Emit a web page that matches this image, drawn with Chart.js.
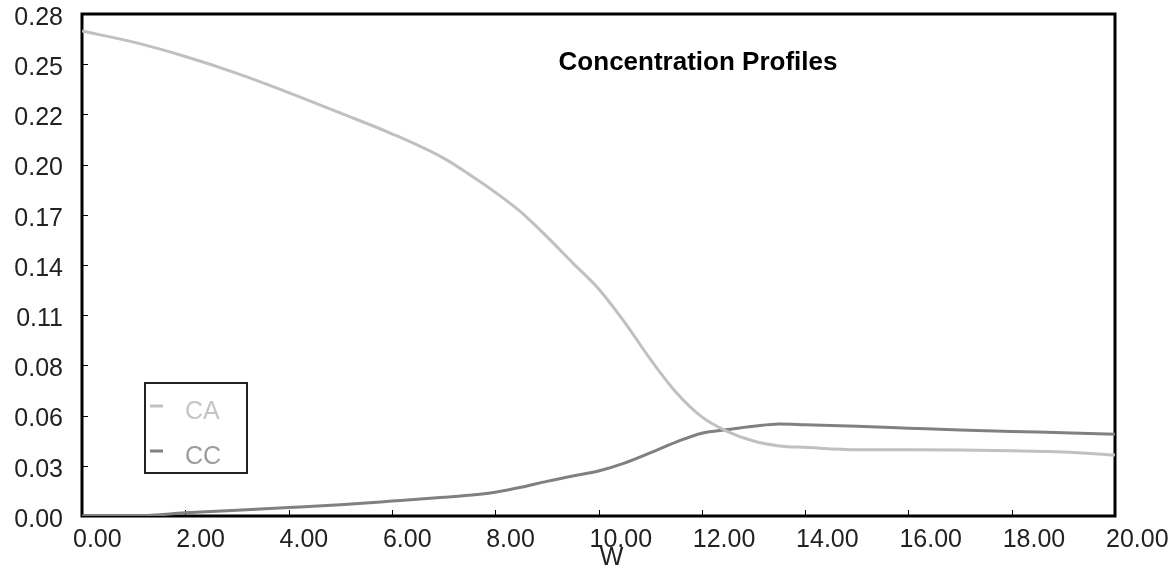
<!DOCTYPE html>
<html>
<head>
<meta charset="utf-8">
<title>Concentration Profiles</title>
<script src="https://cdn.jsdelivr.net/npm/chart.js@4.4.1/dist/chart.umd.min.js"></script>
<style>
  html, body { margin: 0; padding: 0; background: #fff; }
  canvas { display: block; }
</style>
</head>
<body>
<canvas id="profiles" width="1170" height="571"></canvas>
<script>
// values
const wValues  = [0, 1, 2, 3, 4, 5, 6, 7, 7.5, 8, 8.5, 9, 9.5, 10, 10.5, 11, 11.5, 12, 12.5, 13, 13.5, 14, 15, 16, 17, 18, 19, 20];
const caValues = [0.2705, 0.2643, 0.2563, 0.2469, 0.2362, 0.2248, 0.2132, 0.1996, 0.1905, 0.1806, 0.1695, 0.1558, 0.1412, 0.1268,
                  0.1083, 0.0876, 0.0690, 0.0553, 0.0471, 0.0418, 0.0391, 0.0383, 0.0370, 0.0370, 0.0368, 0.0364, 0.0357, 0.0340];
const ccValues = [0, 0, 0.0018, 0.0032, 0.0047, 0.0063, 0.0083, 0.0104, 0.0116, 0.0133, 0.0160, 0.0193, 0.0223, 0.0251,
                  0.0295, 0.0352, 0.0412, 0.0462, 0.0482, 0.0500, 0.0513, 0.0509, 0.0500, 0.0490, 0.0480, 0.0471, 0.0465, 0.0456];

const xTickLabels = ['0.00', '2.00', '4.00', '6.00', '8.00', '10.00', '12.00', '14.00', '16.00', '18.00', '20.00'];
const yTickLabels = ['0.00', '0.03', '0.06', '0.08', '0.11', '0.14', '0.17', '0.20', '0.22', '0.25', '0.28'];

const seriesNames = ['CA', 'CC'];
const seriesColors = ['#c0c0c0', '#808080'];
const legendTextColors = ['#c4c4c4', '#9c9c9c'];

const FONT = '"Liberation Sans", Arial, sans-serif';

// black frame plus small inward ticks, drawn under the curves
const framePlugin = {
    id: 'frame',
    beforeDatasetsDraw(chart) {
        const { ctx, chartArea: a, scales: { x, y } } = chart;
        ctx.save();
        ctx.strokeStyle = '#000';
        ctx.lineWidth = 1;
        ctx.beginPath();
        y.ticks.forEach(t => {
            const py = Math.round(y.getPixelForValue(t.value)) + 0.5;
            ctx.moveTo(a.left, py);
            ctx.lineTo(a.left + 6, py);
        });
        x.ticks.forEach(t => {
            const px = Math.round(x.getPixelForValue(t.value)) + 0.5;
            ctx.moveTo(px, a.bottom);
            ctx.lineTo(px, a.bottom - 6);
        });
        ctx.stroke();
        ctx.lineWidth = 3;
        ctx.strokeRect(a.left, a.top, a.right - a.left, a.bottom - a.top);
        ctx.restore();
    }
};

// title inside the plot, axis name and the boxed legend
const notesPlugin = {
    id: 'notes',
    afterDraw(chart) {
        const { ctx, chartArea: a } = chart;
        ctx.save();
        ctx.textBaseline = 'middle';
        ctx.textAlign = 'center';
        ctx.fillStyle = '#000';
        ctx.font = 'bold 26px ' + FONT;
        ctx.fillText('Concentration Profiles', a.left + 616, a.top + 49);

        ctx.font = '25px ' + FONT;
        ctx.fillStyle = '#222';
        ctx.fillText('W', (a.left + a.right) / 2 + 13, a.bottom + 42);

        const bx = a.left + 63, by = a.top + 369;
        ctx.lineWidth = 2;
        ctx.strokeStyle = '#222';
        ctx.strokeRect(bx, by, 102, 90);
        ctx.textAlign = 'left';
        chart.data.datasets.forEach((ds, i) => {
            const ly = by + 23 + i * 45;
            ctx.strokeStyle = ds.borderColor;
            ctx.lineWidth = 3;
            ctx.beginPath();
            ctx.moveTo(bx + 5, ly);
            ctx.lineTo(bx + 18, ly);
            ctx.stroke();
            ctx.fillStyle = legendTextColors[i];
            ctx.fillText(ds.label, bx + 40, ly + 6);
        });
        ctx.restore();
    }
};

function makeSeries(values, i) {
    return {
        label: seriesNames[i],
        data: wValues.map((w, k) => ({ x: w, y: values[k] })),
        borderColor: seriesColors[i],
        borderWidth: 3,
        pointRadius: 0,
        cubicInterpolationMode: 'monotone',
        fill: false
    };
}

new Chart(document.getElementById('profiles'), {
    type: 'line',
    data: {
        datasets: [makeSeries(caValues, 0), makeSeries(ccValues, 1)]
    },
    options: {
        responsive: false,
        animation: false,
        layout: { padding: { left: 0, top: 14, right: 55, bottom: 0 } },
        plugins: {
            legend: { display: false },
            title: { display: false },
            tooltip: { enabled: false }
        },
        scales: {
            x: {
                type: 'linear',
                min: 0,
                max: 20,
                afterFit(s) {
                    s.height = 55;
                    s.paddingLeft = 0;
                    s.paddingRight = 0;
                },
                grid: { display: false, drawTicks: false },
                border: { display: false },
                ticks: {
                    stepSize: 2,
                    align: 'start',
                    labelOffset: -9,
                    padding: 9,
                    maxRotation: 0,
                    autoSkip: false,
                    color: '#222',
                    font: { family: FONT, size: 25 },
                    callback: (v, i) => xTickLabels[i]
                }
            },
            y: {
                min: 0,
                max: 0.28,
                afterFit(s) {
                    s.width = 82;
                    s.paddingTop = 0;
                    s.paddingBottom = 0;
                },
                grid: { display: false, drawTicks: false },
                border: { display: false },
                ticks: {
                    stepSize: 0.028,
                    padding: 19,
                    labelOffset: 4,
                    autoSkip: false,
                    color: '#222',
                    font: { family: FONT, size: 25 },
                    callback: (v, i) => yTickLabels[i]
                }
            }
        }
    },
    plugins: [framePlugin, notesPlugin]
});
</script>
</body>
</html>
